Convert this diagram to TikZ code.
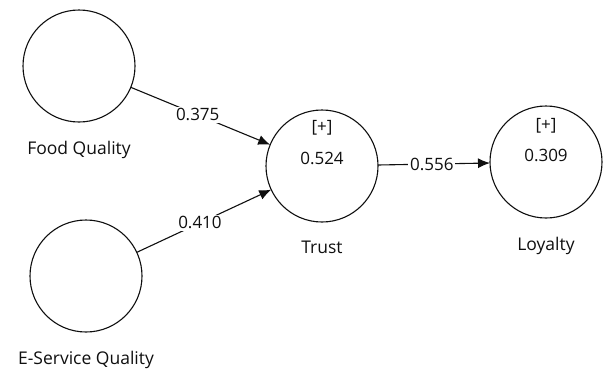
\documentclass[tikz,border=0pt]{standalone}
\usepackage{fontspec}
\setmainfont{Open Sans}
\usetikzlibrary{arrows.meta,positioning}
\definecolor{ink}{RGB}{15,15,15}

\begin{document}
\begin{tikzpicture}[x=1pt,y=-1pt]

\tikzstyle{construct} = [circle, draw=ink, line width=1.1pt, minimum size=112pt, inner sep=0pt, outer sep=0pt]
\tikzstyle{latentname} = [text=ink, font=\fontsize{17.5}{20}\selectfont, inner sep=0pt, node distance=19pt]
\tikzstyle{value} = [text=ink, font=\fontsize{17}{20}\selectfont, inner sep=0pt]
\tikzstyle{coef} = [fill=white, text=ink, font=\fontsize{17}{20}\selectfont, inner sep=2pt]
\tikzstyle{line} = [draw=ink, line width=1.1pt, -{Latex[length=12pt,width=10pt]}]

\useasboundingbox (0,0) rectangle (603,373);

\node [construct] (food) at (79,66) {};
\node [construct] (eservice) at (86,276) {};
\node [construct] (trust) at (322,166) {};
\node [construct] (loyalty) at (546,162) {};

\node [latentname, below=of food] (foodname) {Food Quality};
\node [latentname, below=of eservice] (eservicename) {E-Service Quality};
\node [latentname, below=of trust] (trustname) {Trust};
\node [latentname, below=of loyalty] (loyaltyname) {Loyalty};

\node [value] (trustsign) at (322,128) {[+]};
\node [value] (trustr2) at (322,158) {0.524};
\node [value] (loyaltysign) at (546,126) {[+]};
\node [value] (loyaltyr2) at (546,155) {0.309};

\path [line] (food) -- node [coef, pos=0.48] {0.375} (trust);
\path [line] (eservice) -- node [coef, pos=0.47] {0.410} (trust);
\path [line] (trust) -- node [coef, pos=0.48] {0.556} (loyalty);
\end{tikzpicture}
\end{document}
